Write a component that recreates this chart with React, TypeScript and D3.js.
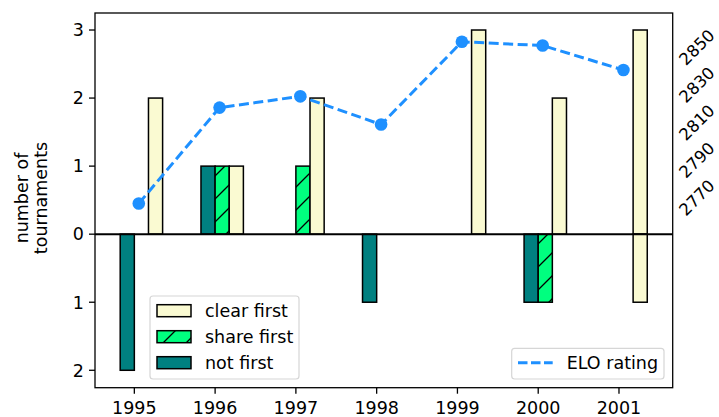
import React from 'react';
import * as d3 from 'd3';

// tournament results per year (above zero / below zero)
const years = [1995, 1996, 1997, 1998, 1999, 2000, 2001];
const clearUp = [2, 1, 2, 0, 3, 2, 3];
const shareUp = [0, 1, 1, 0, 0, 0, 0];
const notUp = [0, 1, 0, 0, 0, 0, 0];
const clearDown = [0, 0, 0, 0, 0, 0, 1];
const shareDown = [0, 0, 0, 0, 0, 1, 0];
const notDown = [2, 0, 0, 1, 0, 1, 0];
const elo = [2767, 2818, 2824, 2809, 2853, 2851, 2838];

const leftTicks = [-2, -1, 0, 1, 2, 3];
const rightTicks = [2770, 2790, 2810, 2830, 2850];

const W = 719;
const H = 417;
const left = 95, right = 672.7, top = 13, bottom = 387.7;
const FONT = 'DejaVu Sans, sans-serif';
const FS = 17.5;
const BAR_W = 0.175;

const C_CLEAR = '#FAFAD2';
const C_SHARE = '#00FF7F';
const C_NOT = '#008080';
const C_ELO = '#1E90FF';

export default function App() {
  const x = d3.scaleLinear().domain([1994.513, 2001.665]).range([left, right]);
  const y = d3.scaleLinear().domain([-2.256, 3.25]).range([bottom, top]);
  const y2 = d3.scaleLinear().domain([2669.1, 2868.3]).range([bottom, top]);

  const series = [
    { up: notUp, down: notDown, off: -BAR_W, fill: C_NOT },
    { up: shareUp, down: shareDown, off: 0, fill: 'url(#hatch)' },
    { up: clearUp, down: clearDown, off: BAR_W, fill: C_CLEAR },
  ];

  const bars: JSX.Element[] = [];
  series.forEach((s, si) => {
    years.forEach((yr, i) => {
      const x0 = x(yr + s.off);
      const w = x(yr + s.off + BAR_W) - x0;
      if (s.up[i] > 0) {
        bars.push(
          <rect key={`u${si}-${i}`} x={x0} y={y(s.up[i])} width={w} height={y(0) - y(s.up[i])}
            fill={s.fill} stroke="#000" strokeWidth={1.5} />
        );
      }
      if (s.down[i] > 0) {
        bars.push(
          <rect key={`d${si}-${i}`} x={x0} y={y(0)} width={w} height={y(-s.down[i]) - y(0)}
            fill={s.fill} stroke="#000" strokeWidth={1.5} />
        );
      }
    });
  });

  const line = d3.line<number>()
    .x((_, i) => x(years[i] + 0.055))
    .y(d => y2(d));

  const legendRows = [
    { label: 'clear first', fill: C_CLEAR },
    { label: 'share first', fill: 'url(#hatch)' },
    { label: 'not first', fill: C_NOT },
  ];

  return (
    <svg width={W} height={H} style={{ position: 'absolute', left: 0, top: 0, background: '#fff' }}
      fontFamily={FONT}>
      <defs>
        <pattern id="hatch" patternUnits="userSpaceOnUse" width={23} height={23}>
          <rect width={23} height={23} fill={C_SHARE} />
          <path d="M0,23 L23,0 M-6,6 L6,-6 M17,29 L29,17" stroke="#000" strokeWidth={1.3} />
        </pattern>
      </defs>

      {bars}

      {/* zero line */}
      <line x1={left} x2={right} y1={y(0)} y2={y(0)} stroke="#000" strokeWidth={2} />

      {/* frame */}
      <rect x={left} y={top} width={right - left} height={bottom - top} fill="none" stroke="#000" strokeWidth={1.3} />

      {/* left axis */}
      {leftTicks.map(t => (
        <g key={t}>
          <line x1={left - 6} x2={left} y1={y(t)} y2={y(t)} stroke="#000" strokeWidth={1.3} />
          <text x={left - 11} y={y(t)} dy="0.36em" textAnchor="end" fontSize={FS} fill="#000">
            {Math.abs(t)}
          </text>
        </g>
      ))}
      <text transform="translate(28,198) rotate(-90)" textAnchor="middle" fontSize={FS} fill="#000">
        <tspan x={0} dy={0}>number of</tspan>
        <tspan x={0} dy={19}>tournaments</tspan>
      </text>

      {/* bottom axis */}
      {years.map(yr => (
        <g key={yr}>
          <line x1={x(yr)} x2={x(yr)} y1={bottom} y2={bottom + 6} stroke="#000" strokeWidth={1.3} />
          <text x={x(yr)} y={414} textAnchor="middle" fontSize={FS} fill="#000">{yr}</text>
        </g>
      ))}

      {/* right axis labels */}
      {rightTicks.map(t => (
        <text key={t} transform={`translate(697,${y2(t)}) rotate(-45)`} textAnchor="middle"
          dominantBaseline="central" fontSize={16.5} fill="#000">{t}</text>
      ))}

      {/* ELO line */}
      <path d={line(elo) || ''} fill="none" stroke={C_ELO} strokeWidth={3} strokeDasharray="10 4.5" />
      {elo.map((v, i) => (
        <circle key={i} cx={x(years[i] + 0.055)} cy={y2(v)} r={6.3} fill={C_ELO} />
      ))}

      {/* legend bars */}
      <rect x={150} y={296} width={149} height={83} rx={3} fill="#fff" fillOpacity={0.8} stroke="#d6d6d6" strokeWidth={1.2} />
      {legendRows.map((r, i) => {
        const cy = 310.7 + i * 26;
        return (
          <g key={r.label}>
            <rect x={157} y={cy - 6} width={34} height={12} fill={r.fill} stroke="#000" strokeWidth={1.5} />
            <text x={205} y={cy} dy="0.36em" fontSize={FS} fill="#000">{r.label}</text>
          </g>
        );
      })}

      {/* legend line */}
      <rect x={511.7} y={348.3} width={152.3} height={30.7} rx={3} fill="#fff" fillOpacity={0.8} stroke="#d6d6d6" strokeWidth={1.2} />
      <line x1={518} x2={552.7} y1={362.7} y2={362.7} stroke={C_ELO} strokeWidth={3} strokeDasharray="9.5 3.5" />
      <text x={566.7} y={362.7} dy="0.36em" fontSize={FS} fill="#000">ELO rating</text>
    </svg>
  );
}
